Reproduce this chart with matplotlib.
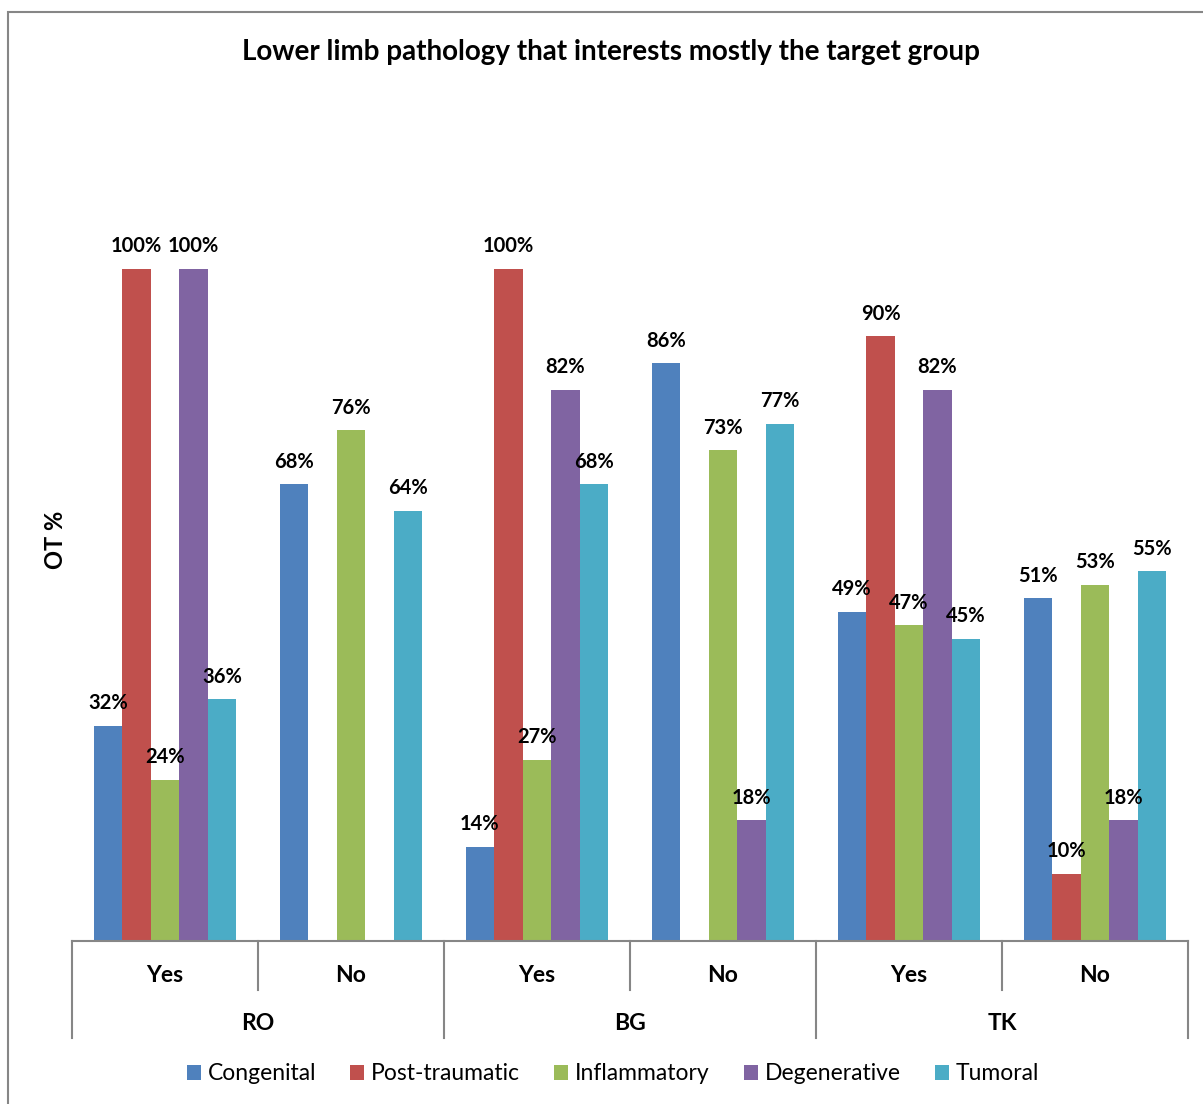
import matplotlib.pyplot as plt
import matplotlib.transforms as mtransforms
from matplotlib.patches import Rectangle
import numpy as np

# ===================== DATA =====================
countries = ["RO", "BG", "TK"]
answers = ["Yes", "No"]
series_names = ["Congenital", "Post-traumatic", "Inflammatory", "Degenerative", "Tumoral"]
colors = ["#4F81BD", "#C0504D", "#9BBB59", "#8064A2", "#4BACC6"]

# values per series, across groups RO-Yes, RO-No, BG-Yes, BG-No, TK-Yes, TK-No
congenital = [32, 68, 14, 86, 49, 51]
post_traumatic = [100, 0, 100, 0, 90, 10]
inflammatory = [24, 76, 27, 73, 47, 53]
degenerative = [100, 0, 82, 18, 82, 18]
tumoral = [36, 64, 68, 77, 45, 55]
values = [congenital, post_traumatic, inflammatory, degenerative, tumoral]

plt.rcParams['font.family'] = ['Lato', 'DejaVu Sans']

W, H = 1203, 1104
fig = plt.figure(figsize=(W / 100, H / 100), dpi=100)

ax_left, ax_right = 72, 1188
ax_bottom, ax_top = 941, 134.6
ax = fig.add_axes([ax_left / W, 1 - ax_bottom / H,
                   (ax_right - ax_left) / W, (ax_bottom - ax_top) / H])

n_groups = len(countries) * len(answers)
x = np.arange(n_groups)
bw = 0.1535

for i, (name, vals, col) in enumerate(zip(series_names, values, colors)):
    pos = x + (i - 2) * bw
    ax.bar(pos, vals, width=bw, color=col, label=name, edgecolor="none")
    for px, v in zip(pos, vals):
        if v == 0:
            continue
        ax.annotate(f"{v}%", (px, v), xytext=(0, 9), textcoords="offset points",
                    ha="center", va="bottom", fontsize=14.5, fontweight="bold")

ax.set_xlim(-0.5, n_groups - 0.5)
ax.set_ylim(0, 120)
ax.set_xticks([])
ax.set_yticks([])
for s in ["top", "right", "left"]:
    ax.spines[s].set_visible(False)
ax.spines["bottom"].set_color("#868686")
ax.spines["bottom"].set_linewidth(1.5)

# multi-level category axis
trans = mtransforms.blended_transform_factory(ax.transData, ax.transAxes)
h_ax = ax_bottom - ax_top
inner = -(990 - ax_bottom) / h_ax
outer = -(1038 - ax_bottom) / h_ax
for k in range(n_groups + 1):
    b = k - 0.5
    y_end = outer if k % 2 == 0 else inner
    ax.plot([b, b], [0, y_end], color="#868686", lw=1.5, transform=trans, clip_on=False)

for k in range(n_groups):
    ax.text(k, -(976 - ax_bottom) / h_ax, answers[k % 2], transform=trans,
            ha="center", va="center", fontsize=16.5, fontweight="bold")
for c, name in enumerate(countries):
    ax.text(2 * c + 0.5, -(1024 - ax_bottom) / h_ax, name, transform=trans,
            ha="center", va="center", fontsize=16.5, fontweight="bold")

ax.set_ylabel("OT %", fontsize=17, fontweight="bold")
ax.yaxis.set_label_coords((67 - ax_left) / (ax_right - ax_left), 1 - (540 - ax_top) / h_ax)

fig.text(611 / W, 1 - 52 / H, "Lower limb pathology that interests mostly the target group",
         ha="center", va="center", fontsize=20, fontweight="bold")

fig.legend(loc="center", bbox_to_anchor=(613 / W, 1 - 1074 / H), ncol=5, frameon=False,
           fontsize=16.5, handlelength=0.6, handleheight=0.6, handletextpad=0.3,
           columnspacing=1.5)

# outer chart border
fig.patches.append(Rectangle((8 / W, -0.1), 1.2, 1 - 12 / H + 0.1, transform=fig.transFigure,
                             fill=False, edgecolor="#868686", lw=1.5))

fig.savefig("out.png", dpi=100)
